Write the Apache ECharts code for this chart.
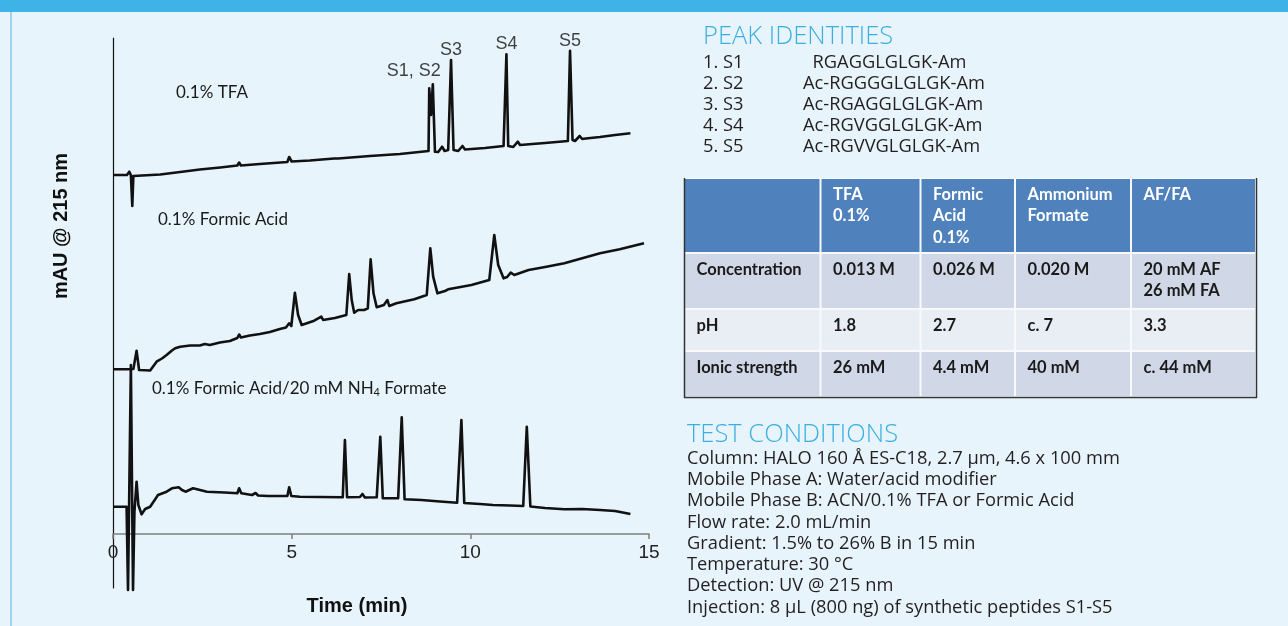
<!DOCTYPE html>
<html>
<head>
<meta charset="utf-8">
<script src="https://cdn.jsdelivr.net/npm/echarts@6.0.0/dist/echarts.min.js"></script>
<style>
html,body{margin:0;padding:0;background:#E8F4FB;}
#c{width:1288px;height:626px;}
</style>
</head>
<body>
<div id="c"></div>
<script>
// ---------- DATA ----------
// time (min), detector response (arbitrary, traces offset)
const tfaTrace = [[0,359],[0.39,359],[0.456,362.3],[0.50,359],[0.54,328],[0.57,358],[0.62,359],[1.32,359.5],[1.88,362],[2.43,364.5],[3.0,366.5],[3.48,368.5],[3.53,371.5],[3.58,368.5],[4.11,370],[4.88,372],[4.93,377],[5.0,372.5],[5.51,373.5],[6.19,375.5],[6.24,377],[6.30,375.5],[7.19,378],[8.03,380],[8.83,383],[8.85,445.7],[8.90,419],[8.95,449.7],[9.01,382.3],[9.10,382],[9.21,387.3],[9.28,383],[9.38,384],[9.46,474],[9.53,384],[9.66,383],[9.78,388],[9.85,384.5],[10.41,386],[10.93,388],[11.01,479.7],[11.06,388],[11.2,387],[11.33,392.3],[11.39,389],[12.09,391],[12.73,393],[12.79,483.3],[12.86,394],[12.93,393],[13.06,398],[13.13,395],[13.23,395.5],[13.63,397],[14.05,399],[14.48,400.7]];
const formicTrace = [[0,164.7],[0.39,164.7],[0.57,165],[0.66,183.3],[0.73,164],[0.78,163],[1.04,163.5],[1.22,172.3],[1.37,175.5],[1.50,179],[1.65,183.5],[1.74,185.7],[1.88,187.3],[2.16,188.5],[2.43,188.5],[2.57,190],[2.71,189],[2.99,191.5],[3.27,193],[3.48,196],[3.53,199.5],[3.58,196.5],[3.83,198.5],[4.11,200],[4.39,202],[4.67,205],[4.84,206.5],[4.93,210.7],[4.99,208],[5.09,241.3],[5.18,219],[5.28,209],[5.63,213.3],[5.83,217.3],[5.88,214],[6.21,216],[6.53,219],[6.61,260],[6.68,234],[6.75,221.3],[6.86,224],[7.03,224],[7.13,225.7],[7.21,274.7],[7.29,240.7],[7.38,226.7],[7.58,229],[7.68,234],[7.73,228],[7.93,230.7],[8.43,234.7],[8.78,239],[8.88,285.7],[8.96,257.3],[9.08,240.7],[9.29,243],[9.38,244.7],[9.43,243],[10.03,249],[10.53,254],[10.67,299],[10.78,269],[10.93,255.7],[11.03,257],[11.13,261.3],[11.23,259],[11.63,264],[12.13,267.3],[12.63,270.7],[13.13,275.7],[13.63,280.7],[14.18,284.7],[14.86,290.7]];
const afTrace = [[0,27.3],[0.38,27.3],[0.42,-56],[0.50,169],[0.56,-56],[0.60,22],[0.66,52.3],[0.71,29],[0.80,19.7],[0.90,25],[1.04,27.3],[1.26,39],[1.50,42.3],[1.65,45.7],[1.84,46.7],[1.93,44],[2.03,42.3],[2.24,45.7],[2.63,42.3],[3.13,41.5],[3.48,40.7],[3.53,45.7],[3.59,40.7],[3.89,39],[3.99,41],[4.06,38.5],[4.34,38],[4.88,38],[4.93,46.7],[4.99,38],[5.23,37.3],[5.79,37],[6.43,36.7],[6.49,94],[6.55,36.7],[6.91,37],[6.98,40],[7.05,36.5],[7.38,36.7],[7.48,97.3],[7.55,35.7],[7.98,35.7],[8.08,116.7],[8.16,34.7],[8.63,34],[9.15,32.5],[9.63,31.3],[9.75,114],[9.83,31],[10.27,30],[10.63,29],[11.11,28.5],[11.48,28],[11.58,107.3],[11.68,27.5],[12.09,26],[12.63,24.7],[13.13,25],[13.63,24],[14.05,23],[14.48,20]];
const peakLabels = [[8.95,449.7,'S1, S2'],[9.46,474,'S3'],[11.01,479.7,'S4'],[12.79,483.3,'S5']];
const xTicks = [0,5,10,15];
const traceNames = ['0.1% TFA','0.1% Formic Acid','0.1% Formic Acid/20 mM NH{sub|4} Formate'];
const axisTitles = ['Time (min)','mAU @ 215 nm'];

const peakIdTitle = 'PEAK IDENTITIES';
const peakIds = ['1. S1','2. S2','3. S3','4. S4','5. S5'];
const peakSeqs = ['  RGAGGLGLGK-Am','Ac-RGGGGLGLGK-Am','Ac-RGAGGLGLGK-Am','Ac-RGVGGLGLGK-Am','Ac-RGVVGLGLGK-Am'];

const tableHead = ['','TFA\n0.1%','Formic\nAcid\n0.1%','Ammonium\nFormate','AF/FA'];
const tableRows = [
  ['Concentration','0.013 M','0.026 M','0.020 M','20 mM AF\n26 mM FA'],
  ['pH','1.8','2.7','c. 7','3.3'],
  ['Ionic strength','26 mM','4.4 mM','40 mM','c. 44 mM']
];

const testTitle = 'TEST CONDITIONS';
const testConditions = [
  'Column: HALO 160 Å ES-C18, 2.7 μm, 4.6 x 100 mm',
  'Mobile Phase A: Water/acid modifier',
  'Mobile Phase B: ACN/0.1% TFA or Formic Acid',
  'Flow rate: 2.0 mL/min',
  'Gradient: 1.5% to 26% B in 15 min',
  'Temperature: 30 °C',
  'Detection: UV @ 215 nm',
  'Injection: 8 μL (800 ng) of synthetic peptides S1-S5'
];

// ---------- LAYOUT ----------
const BG = '#E8F4FB';
const BLUE = '#3DB4E5';
const TITLE_BLUE = '#3BAFE2';
const TEXT_DARK = '#231F20';
const TBL_X = [684, 820.5, 920.5, 1015, 1131, 1256];
const TBL_Y = [178, 253, 309, 351, 397];
const ROW_FILL = ['#4F81BD','#D0D8E8','#E9EDF4','#D0D8E8'];

function txt(x, y, text, o) {
  o = o || {};
  return {
    type: 'text', x: x, y: y, rotation: o.rotation || 0, silent: true,
    style: {
      text: text,
      fill: o.fill || TEXT_DARK,
      fontSize: o.size || 18.3,
      fontFamily: o.family || 'Open Sans',
      fontWeight: o.weight || 'normal',
      align: o.align || 'left', textAlign: o.align || 'left',
      verticalAlign: o.va || 'middle', textVerticalAlign: o.va || 'middle',
      lineHeight: o.lh,
      rich: o.rich
    }
  };
}

const g = [];
// top bar and left edge
g.push({type:'rect', shape:{x:0,y:0,width:1288,height:12}, style:{fill:BLUE}, silent:true});
g.push({type:'rect', shape:{x:10,y:12,width:2,height:614}, style:{fill:'#9DD3EF'}, silent:true});

// axis titles
g.push(txt(357, 606, axisTitles[0], {family:'Liberation Sans', weight:'bold', size:20, align:'center', fill:'#111'}));
g.push(txt(61, 226, axisTitles[1], {family:'Liberation Sans', weight:'bold', size:20, align:'center', fill:'#111', rotation:Math.PI/2}));

// trace annotations
const traceLabelPos = [[176,93],[158,220],[152,389]];
traceNames.forEach((n,i) => {
  g.push(txt(traceLabelPos[i][0], traceLabelPos[i][1], n, {family:'Lato', size:17, fill:'#1a1a1a',
    rich: {sub: {fontSize: 11, fontFamily: 'Lato', fill:'#1a1a1a', verticalAlign:'bottom', lineHeight: 11}}}));
});

// peak identities
g.push(txt(703, 37, peakIdTitle, {size:25.5, fill:TITLE_BLUE, weight:300}));
peakIds.forEach((p,i) => {
  const y = 62.7 + i*20.9;
  g.push(txt(703, y, p));
  g.push(txt(803, y, peakSeqs[i]));
});

// table
g.push({type:'rect', shape:{x:TBL_X[0], y:TBL_Y[0], width:TBL_X[5]-TBL_X[0], height:TBL_Y[4]-TBL_Y[0]}, style:{fill:'#F7F9FC'}, silent:true});
const allRows = [tableHead].concat(tableRows);
allRows.forEach((row, r) => {
  row.forEach((cell, c) => {
    g.push({type:'rect', shape:{x:TBL_X[c]+1, y:TBL_Y[r]+1, width:TBL_X[c+1]-TBL_X[c]-2, height:TBL_Y[r+1]-TBL_Y[r]-2},
      style:{fill:ROW_FILL[r]}, silent:true});
    if (cell) {
      g.push(txt(TBL_X[c]+12.5, TBL_Y[r]+5.5, cell, {family:'Lato', weight:'bold', size:16.5, va:'top', lh:21.5,
        fill: r === 0 ? '#FFFFFF' : '#1A1A1A'}));
    }
  });
});
g.push({type:'line', shape:{x1:TBL_X[0]+0.5, y1:TBL_Y[0], x2:TBL_X[0]+0.5, y2:TBL_Y[4]+1}, style:{stroke:'#333', lineWidth:1.5}, silent:true});
g.push({type:'line', shape:{x1:TBL_X[5]+0.5, y1:TBL_Y[0], x2:TBL_X[5]+0.5, y2:TBL_Y[4]+1}, style:{stroke:'#333', lineWidth:1.5}, silent:true});
g.push({type:'line', shape:{x1:TBL_X[0], y1:TBL_Y[4]+0.5, x2:TBL_X[5]+1, y2:TBL_Y[4]+0.5}, style:{stroke:'#333', lineWidth:1.5}, silent:true});

// test conditions
g.push(txt(687, 435, testTitle, {size:25.5, fill:TITLE_BLUE, weight:300}));
testConditions.forEach((t,i) => g.push(txt(687, 458.3 + i*21.33, t)));

const lineStyle = {color:'#111', width:2.6, join:'round'};
function traceSeries(data) {
  return {type:'line', data:data, symbol:'none', clip:false, silent:true, animation:false,
    lineStyle: lineStyle, z: 3};
}

const option = {
  backgroundColor: BG,
  animation: false,
  grid: {left:113, right:639, top:38, bottom:38, containLabel:false},
  xAxis: {
    type:'value', min:0, max:15, interval:5, position:'bottom', offset:-54,
    axisLine:{show:true, onZero:false, lineStyle:{color:'#7F7F7F', width:1.5}},
    axisTick:{show:true, length:5, lineStyle:{color:'#7F7F7F', width:1.5}},
    axisLabel:{show:true, fontSize:19, fontFamily:'Liberation Sans', color:'#222', margin:9,
      formatter: v => xTicks.indexOf(v) >= 0 ? String(v) : ''},
    splitLine:{show:false}
  },
  yAxis: {
    type:'value', min:-54, max:496,
    axisLine:{show:true, onZero:false, lineStyle:{color:'#111', width:1.2}},
    axisTick:{show:false}, axisLabel:{show:false}, splitLine:{show:false}
  },
  series: [
    traceSeries(tfaTrace),
    traceSeries(formicTrace),
    traceSeries(afTrace),
    {
      type:'scatter', symbolSize:0, silent:true, animation:false, z:4,
      data: peakLabels.map((p,i) => ({value:p, label: i === 0 ? {offset:[-19,-3]} : {}})),
      label:{show:true, position:'top', distance:1, formatter: p => p.data.value[2],
        fontSize:18, fontFamily:'Liberation Sans', color:'#111'}
    }
  ],
  graphic: {elements: g}
};

const chart = echarts.init(document.getElementById('c'), null, {renderer:'canvas'});
chart.setOption(option);
</script>
</body>
</html>
